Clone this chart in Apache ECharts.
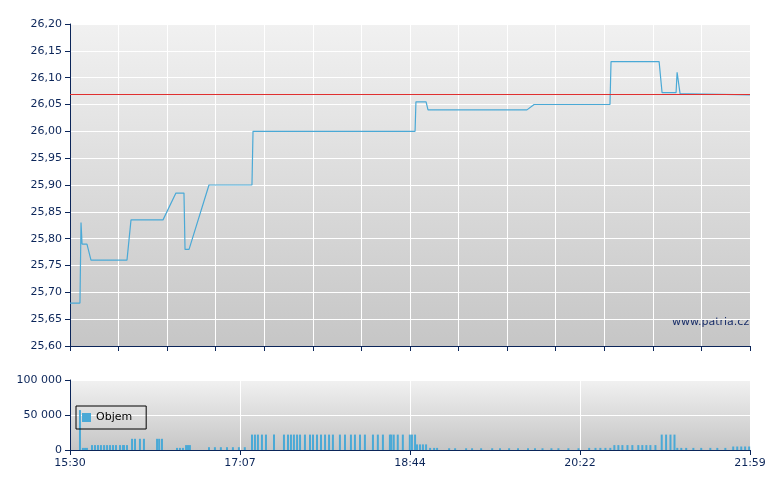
<!DOCTYPE html>
<html>
<head>
<meta charset="utf-8">
<script src="https://cdn.jsdelivr.net/npm/echarts@6/dist/echarts.min.js"></script>
<style>html,body{margin:0;padding:0;background:#fff}#chart{width:780px;height:490px}</style>
</head>
<body>
<div id="chart"></div>
<script>
// minuty od 15:30
var timeLabels = ['15:30', '17:07', '18:44', '20:22', '21:59'];
var refPrice = 26.067;
var price = [
	[0, 25.68], [5.7, 25.68], [6.3, 25.83], [6.9, 25.79], [9.7, 25.79], [12.0, 25.76],
	[32.6, 25.76], [34.9, 25.835], [53.2, 25.835], [60.6, 25.885], [65.2, 25.885],
	[65.8, 25.78], [68.1, 25.78], [79.5, 25.90], [104.1, 25.90], [104.7, 26.00],
	[197.4, 26.00], [197.9, 26.055], [203.7, 26.055], [204.8, 26.04], [261.4, 26.04],
	[265.5, 26.05], [308.9, 26.05], [309.5, 26.13], [337, 26.13], [338.7, 26.072],
	[346.7, 26.072], [347.3, 26.11], [348.4, 26.11], [349, 26.07], [353.6, 26.07], [389, 26.068]
];
var volume = [
	[5.7, 57000], [7.4, 3000], [8.6, 3000], [9.7, 3000], [12.6, 7000], [14.3, 7000], [16, 7000],
	[17.7, 7000], [19.5, 7000], [21.2, 7000], [22.9, 7000], [24.6, 7000], [26.3, 7000], [28.6, 7000],
	[30.3, 7000], [30.9, 7000], [32.6, 7000], [35.5, 16000], [37.2, 16000], [40, 16000], [42.3, 16000],
	[49.8, 16000], [51, 16000], [52.6, 16000], [61.2, 3000], [62.9, 3000], [64.6, 3000], [66.4, 7000],
	[67.5, 7000], [68.6, 7000], [79.5, 4000], [82.9, 4000], [86.3, 4000], [89.8, 4000], [93.2, 4000],
	[96.6, 4000], [100, 4000], [104.1, 22000], [105.8, 22000], [107.5, 22000], [109.8, 22000],
	[112.1, 22000], [116.7, 22000], [122.4, 22000], [124.7, 22000], [126.4, 22000], [128.1, 22000],
	[129.9, 22000], [131.6, 22000], [134.4, 22000], [137.3, 22000], [139, 22000], [141.3, 22000],
	[143.6, 22000], [145.9, 22000], [148.2, 22000], [150.4, 22000], [154.4, 22000], [157.3, 22000],
	[160.7, 22000], [163, 22000], [165.9, 22000], [168.7, 22000], [173.3, 22000], [176.1, 22000],
	[179, 22000], [183, 22000], [183.8, 22000], [185.2, 22000], [187.5, 22000], [190.4, 22000],
	[194.4, 22000], [195.6, 22000], [197.4, 22000], [198.5, 8000], [200.2, 8000], [201.9, 8000],
	[203.7, 8000], [206, 3000], [208.3, 3000], [210, 3000], [216.9, 2500], [220.3, 2500],
	[226.6, 2500], [230, 2500], [235.2, 2500], [241.5, 2500], [246, 2500], [251.2, 2500],
	[256.3, 2500], [262, 2500], [266, 2500], [270.3, 2500], [275.4, 2500], [279.4, 2500],
	[285.1, 2500], [290.9, 2500], [297, 3000], [300.6, 3000], [303.4, 3000], [306.3, 3000],
	[309.1, 3000], [311.4, 7000], [313.7, 7000], [316, 7000], [318.9, 7000], [321.7, 7000],
	[325.1, 7000], [327.4, 7000], [329.7, 7000], [332, 7000], [334.9, 7000], [338.5, 22000],
	[341, 22000], [343.5, 22000], [345.8, 22000], [347.4, 3000], [349.7, 3000], [352.5, 3000],
	[356.6, 3000], [361.1, 3000], [366.3, 3000], [370.3, 3000], [374.9, 3000], [379.4, 5000],
	[381.7, 5000], [384, 5000], [386.2, 5000], [388.5, 5000]
];

var axisColor = '#0b2559';
var bg = new echarts.graphic.LinearGradient(0, 0, 0, 1, [
	{ offset: 0, color: '#f1f1f1' }, { offset: 1, color: '#c6c6c6' }
]);
var myChart = echarts.init(document.getElementById('chart'));
var option = {
	animation: false,
	textStyle: { fontFamily: 'DejaVu Sans' },
	legend: {
		data: ['Objem'], left: 76, top: 406, orient: 'vertical',
		borderColor: '#000', borderWidth: 1, padding: [6, 14, 6, 6],
		itemWidth: 9, itemHeight: 9, icon: 'rect',
		textStyle: { color: '#000', fontSize: 11 }
	},
	graphic: [{
		type: 'text', left: 672, top: 317,
		style: { text: 'www.patria.cz', fill: '#1a2f6a', font: '11px DejaVu Sans' }
	}],
	grid: [
		{ left: 70, right: 30, top: 24, height: 322, show: true, backgroundColor: bg, borderWidth: 0 },
		{ left: 70, right: 30, top: 380, height: 70, show: true, backgroundColor: bg, borderWidth: 0 }
	],
	xAxis: [{
		gridIndex: 0, type: 'value', min: 0, max: 389, interval: 389 / 14,
		axisLine: { lineStyle: { color: axisColor } },
		axisTick: { lineStyle: { color: axisColor }, length: 5 },
		axisLabel: { show: false },
		splitLine: { lineStyle: { color: '#fff' } }
	}, {
		gridIndex: 1, type: 'value', min: 0, max: 389, interval: 389 / 4,
		axisLine: { lineStyle: { color: axisColor } },
		axisTick: { lineStyle: { color: axisColor }, length: 5 },
		axisLabel: {
			color: axisColor, fontSize: 11,
			formatter: function(v) { return timeLabels[Math.round(v / (389 / 4))]; }
		},
		splitLine: { lineStyle: { color: '#fff' } }
	}],
	yAxis: [{
		gridIndex: 0, type: 'value', min: 25.6, max: 26.2, interval: 0.05,
		axisLine: { show: true, lineStyle: { color: axisColor } },
		axisTick: { show: true, lineStyle: { color: axisColor } },
		axisLabel: { color: axisColor, fontSize: 11, formatter: function(v) { return v.toFixed(2).replace('.', ','); } },
		splitLine: { lineStyle: { color: '#fff' } }
	}, {
		gridIndex: 1, type: 'value', min: 0, max: 100000, interval: 50000,
		axisLine: { show: true, lineStyle: { color: axisColor } },
		axisTick: { show: true, lineStyle: { color: axisColor } },
		axisLabel: { color: axisColor, fontSize: 11, formatter: function(v) { return v === 0 ? '0' : (v / 1000) + ' 000'; } },
		splitLine: { lineStyle: { color: '#fff' } }
	}],
	series: [{
		name: 'Cena', type: 'line', data: price, symbol: 'none',
		lineStyle: { color: '#4aa9d6', width: 1.2 },
		markLine: {
			silent: true, symbol: 'none', label: { show: false },
			lineStyle: { color: '#e03030', type: 'solid', width: 1 },
			data: [{ yAxis: refPrice }]
		}
	}, {
		name: 'Objem', type: 'bar', xAxisIndex: 1, yAxisIndex: 1, data: volume,
		barWidth: 2, itemStyle: { color: '#4aa9d6', borderColor: '#000', borderWidth: 0 }
	}]
};
myChart.setOption(option);
</script>
</body>
</html>
